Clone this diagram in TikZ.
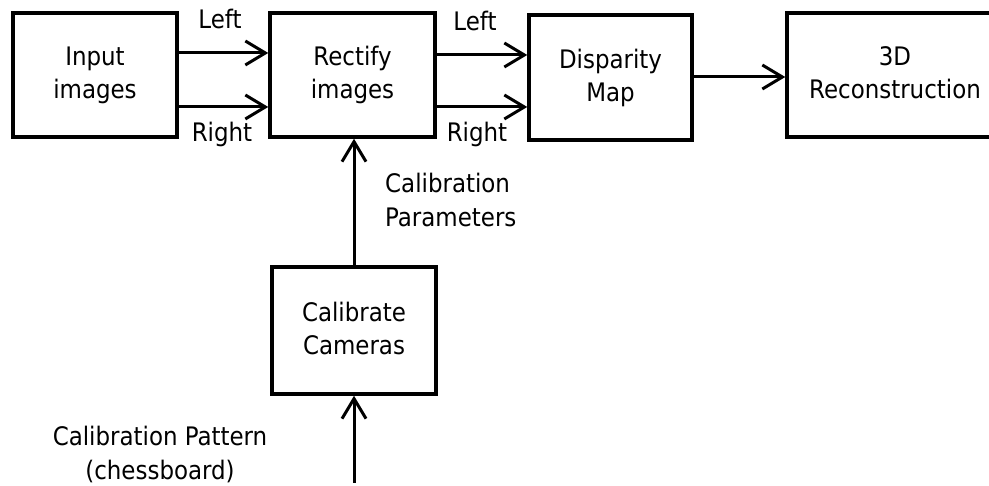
\documentclass[tikz,border=0pt]{standalone}
\usepackage{fontspec}
\setmainfont{DejaVu Sans Condensed}
\usetikzlibrary{arrows.meta}

\tikzset{
  block/.style={draw=black, line width=3.5pt, fill=white, inner sep=0pt,
                align=center, font=\fontsize{25.5}{33}\selectfont},
  arr/.style={line width=3pt, -{Straight Barb[length=20pt,width=24pt,line width=3pt]}},
  lbl/.style={anchor=base, inner sep=0pt, font=\fontsize{25.5}{34}\selectfont},
}

\begin{document}
\begin{tikzpicture}[x=1pt, y=-1pt]
  \useasboundingbox (0,0) rectangle (989,486);
  \clip (0,0) rectangle (989,486);

  % processing blocks
  \node[block, minimum width=164pt, minimum height=124pt] (input)   at (95,75)    {Input\\images\vphantom{y}};
  \node[block, minimum width=165pt, minimum height=124pt] (rectify) at (352.5,75) {Rectify\\images};
  \node[block, minimum width=163pt, minimum height=125pt] (disp)    at (610.5,77.5) {Disparity\\Map};
  \node[block, minimum width=216pt, minimum height=124pt] (recon)   at (895,75)   {3D\\Reconstruction\vphantom{y}};
  \node[block, minimum width=164pt, minimum height=127pt] (calib)   at (354,330.5) {Calibrate\\Cameras\vphantom{y}};

  % free end of the calibration pattern input
  \coordinate (pattern) at (354,483);

  % stereo image flow
  \draw[arr] (input.east |- 0,53)  -- (rectify.west |- 0,53);
  \draw[arr] (input.east |- 0,107) -- (rectify.west |- 0,107);
  \draw[arr] (rectify.east |- 0,55)  -- (disp.west |- 0,55);
  \draw[arr] (rectify.east |- 0,107) -- (disp.west |- 0,107);
  \draw[arr] (disp.east |- 0,77) -- (recon.west |- 0,77);

  % calibration flow
  \draw[arr] (calib.north) -- (calib.north |- rectify.south);
  \draw[arr] (pattern) -- (calib.south);

  % connector labels (base anchor = baseline of the last line)
  \node[lbl] (l1) at (220,29)  {Left};
  \node[lbl] (r1) at (222,142) {Right};
  \node[lbl] (l2) at (475,31)  {Left};
  \node[lbl] (r2) at (477,142) {Right};
  \node[lbl, anchor=base west, align=left] (cp) at (385,227) {Calibration\\Parameters};
  \node[lbl, align=center] (pat) at (160,479) {Calibration Pattern\\(chessboard)};
\end{tikzpicture}
\end{document}
